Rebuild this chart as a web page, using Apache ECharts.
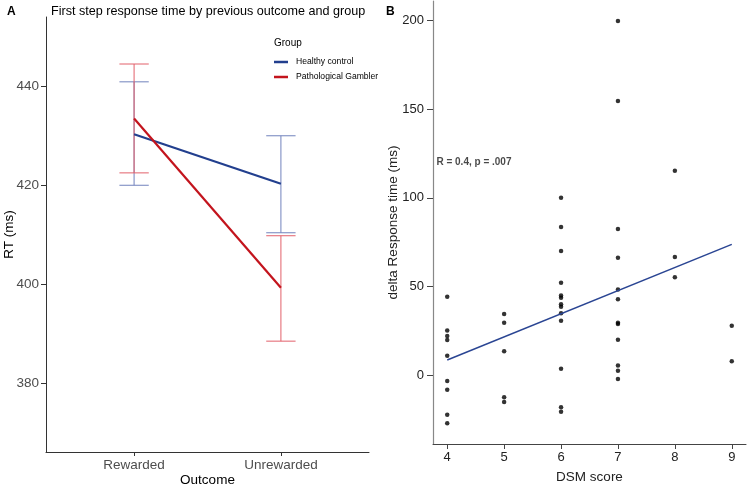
<!DOCTYPE html>
<html><head><meta charset="utf-8">
<script src="https://cdn.jsdelivr.net/npm/echarts@6/dist/echarts.min.js"></script>
<style>html,body{margin:0;padding:0;background:#fff}#c{width:747px;height:485px}</style>
</head><body><div id="c"></div>
<script>
// Panel A data
const outcomes = ["Rewarded", "Unrewarded"];
const hcMean  = [430.3, 420.3];
const hcUpper = [440.9, 430.0];
const hcLower = [420.0, 410.4];
const pgMean  = [433.5, 399.3];
const pgUpper = [444.5, 409.8];
const pgLower = [422.5, 388.5];
const rtTicks = [380, 400, 420, 440];

// Panel B data
const dsmScore = [4,4,4,4,4,4,4,4,4,
                  5,5,5,5,5,
                  6,6,6,6,6,6,6,6,6,6,6,6,6,
                  7,7,7,7,7,7,7,7,7,7,7,7,
                  8,8,8,
                  9,9];
const deltaRT = [44.2, 25.3, 22.1, 19.9, 11.0, -3.2, -8.1, -22.2, -27.0,
                 34.5, 29.6, 13.5, -12.4, -15.0,
                 100.0, 83.5, 70.0, 52.1, 45.0, 43.7, 40.1, 38.6, 34.9, 30.7, 3.7, -18.0, -20.5,
                 199.6, 154.6, 82.4, 66.2, 48.4, 42.9, 29.6, 28.9, 20.0, 5.5, 2.6, -2.1,
                 115.2, 66.6, 55.3,
                 27.9, 7.9];
const fitX = [4, 9];
const fitY = [8.6, 73.8];
const dsmTicks = [4, 5, 6, 7, 8, 9];
const deltaTicks = [0, 50, 100, 150, 200];
const corrText = "R = 0.4, p = .007";

const FONT = "Liberation Sans, Arial, sans-serif";
const HC = "#223f8e", HC_ERR = "#7182bd";
const PG = "#c3141d", PG_ERR = "#e2606a";

function errSeries(name, color, lower, upper) {
  return {
    type: 'custom', name: name, xAxisIndex: 0, yAxisIndex: 0, z: 1,
    encode: { x: 0, y: [1, 2] },
    data: outcomes.map((c, i) => [i + 1, lower[i], upper[i]]),
    renderItem: function (params, api) {
      const x = api.value(0), lo = api.value(1), hi = api.value(2);
      const pLo = api.coord([x, lo]), pHi = api.coord([x, hi]);
      const l = api.coord([x - 0.1, lo])[0], r = api.coord([x + 0.1, lo])[0];
      const st = { stroke: color, lineWidth: 1 };
      return { type: 'group', children: [
        { type: 'line', shape: { x1: pLo[0], y1: pLo[1], x2: pHi[0], y2: pHi[1] }, style: st },
        { type: 'line', shape: { x1: l, y1: pHi[1], x2: r, y2: pHi[1] }, style: st },
        { type: 'line', shape: { x1: l, y1: pLo[1], x2: r, y2: pLo[1] }, style: st }
      ]};
    }
  };
}

const chart = echarts.init(document.getElementById('c'), null, { renderer: 'canvas' });
chart.setOption({
  animation: false,
  textStyle: { fontFamily: FONT },
  title: [
    { text: 'A', left: 2, top: 1, textStyle: { fontSize: 12, fontWeight: 'bold', color: '#000', fontFamily: FONT } },
    { text: 'First step response time by previous outcome and group', left: 46, top: 0,
      textStyle: { fontSize: 12.6, fontWeight: 'normal', color: '#000', fontFamily: FONT } },
    { text: 'B', left: 381, top: 1, textStyle: { fontSize: 12, fontWeight: 'bold', color: '#000', fontFamily: FONT } },
    { text: 'Group', left: 269, top: 33, textStyle: { fontSize: 10, fontWeight: 'normal', color: '#000', fontFamily: FONT } }
  ],
  legend: {
    data: ['Healthy control', 'Pathological Gambler'],
    orient: 'vertical', left: 269, top: 51,
    icon: 'rect', itemWidth: 14, itemHeight: 2.5, itemGap: 3,
    textStyle: { fontSize: 8.6, color: '#000', lineHeight: 12, fontFamily: FONT, padding: [0, 0, 0, 3] }
  },
  grid: [
    { left: 46, top: 17, width: 323, height: 435, outerBoundsMode: 'none', containLabel: false },
    { left: 433, top: 1, width: 313, height: 443, outerBoundsMode: 'none', containLabel: false }
  ],
  xAxis: [
    { gridIndex: 0, type: 'value', min: 0.4, max: 2.6, nameMoveOverlap: false,
      axisLine: { show: true, onZero: false, lineStyle: { color: '#333', width: 1 } },
      splitLine: { show: false },
      axisTick: { show: true, customValues: [1, 2], length: 4, lineStyle: { color: '#333' } },
      axisLabel: { customValues: [1, 2], formatter: v => outcomes[Math.round(v) - 1], color: '#4d4d4d', fontSize: 13.5, margin: 6, fontFamily: FONT },
      name: 'Outcome', nameLocation: 'middle', nameGap: 21,
      nameTextStyle: { fontSize: 13.5, color: '#000', fontFamily: FONT } },
    { gridIndex: 1, type: 'value', min: 3.75, max: 9.25, nameMoveOverlap: false,
      axisLine: { show: true, onZero: false, lineStyle: { color: '#444', width: 1 } },
      splitLine: { show: false },
      axisTick: { show: true, customValues: dsmTicks, length: 5, lineStyle: { color: '#444' } },
      axisLabel: { customValues: dsmTicks, color: '#222', fontSize: 13, margin: 7, fontFamily: FONT },
      name: 'DSM score', nameLocation: 'middle', nameGap: 26,
      nameTextStyle: { fontSize: 13.5, color: '#222', fontFamily: FONT } }
  ],
  yAxis: [
    { gridIndex: 0, type: 'value', min: 366.1, max: 454, nameMoveOverlap: false,
      axisLine: { show: true, onZero: false, lineStyle: { color: '#333', width: 1 } },
      splitLine: { show: false },
      axisTick: { show: true, customValues: rtTicks, length: 5, lineStyle: { color: '#333' } },
      axisLabel: { customValues: rtTicks, color: '#4d4d4d', fontSize: 13.5, margin: 7, fontFamily: FONT },
      name: 'RT (ms)', nameLocation: 'middle', nameGap: 30,
      nameTextStyle: { fontSize: 13.5, color: '#000', fontFamily: FONT } },
    { gridIndex: 1, type: 'value', min: -38.7, max: 210.9, nameMoveOverlap: false,
      axisLine: { show: true, onZero: false, lineStyle: { color: '#888', width: 1.2 } },
      splitLine: { show: false },
      axisTick: { show: true, customValues: deltaTicks, length: 6, lineStyle: { color: '#444' } },
      axisLabel: { customValues: deltaTicks, color: '#222', fontSize: 13, margin: 9, fontFamily: FONT },
      name: 'delta Response time (ms)', nameLocation: 'middle', nameGap: 33,
      nameTextStyle: { fontSize: 13.5, color: '#222', fontFamily: FONT } }
  ],
  series: [
    errSeries('hcErr', HC_ERR, hcLower, hcUpper),
    errSeries('pgErr', PG_ERR, pgLower, pgUpper),
    { type: 'line', name: 'Healthy control', xAxisIndex: 0, yAxisIndex: 0, z: 3,
      data: hcMean.map((v, i) => [i + 1, v]), symbol: 'none',
      lineStyle: { color: HC, width: 2.2 }, itemStyle: { color: HC } },
    { type: 'line', name: 'Pathological Gambler', xAxisIndex: 0, yAxisIndex: 0, z: 3,
      data: pgMean.map((v, i) => [i + 1, v]), symbol: 'none',
      lineStyle: { color: PG, width: 2.2 }, itemStyle: { color: PG } },
    { type: 'scatter', name: 'points', xAxisIndex: 1, yAxisIndex: 1,
      data: dsmScore.map((x, i) => [x, deltaRT[i]]), symbolSize: 4.5,
      itemStyle: { color: '#000' } },
    { type: 'line', name: 'fit', xAxisIndex: 1, yAxisIndex: 1,
      data: fitX.map((x, i) => [x, fitY[i]]), symbol: 'none',
      lineStyle: { color: '#2a4593', width: 1.5 } },
    { type: 'scatter', name: 'corr', xAxisIndex: 1, yAxisIndex: 1,
      data: [[3.81, 120]], symbolSize: 0.01, silent: true,
      label: { show: true, position: 'right', distance: 0, formatter: corrText,
        fontSize: 10, fontWeight: 'bold', color: '#1a1a1a', fontFamily: FONT } }
  ]
});
</script></body></html>
